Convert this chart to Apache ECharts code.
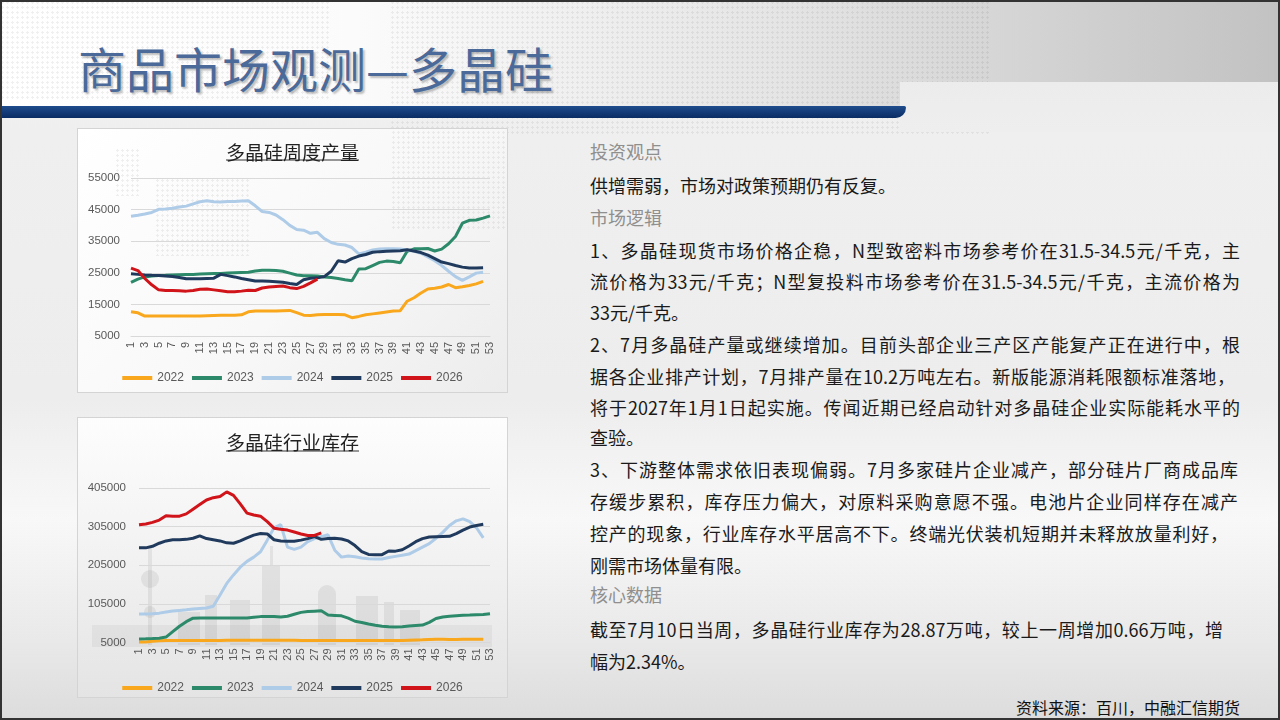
<!DOCTYPE html>
<html>
<head>
<meta charset="utf-8">
<title>商品市场观测—多晶硅</title>
<script src="https://cdn.jsdelivr.net/npm/echarts@6/dist/echarts.min.js"></script>
<style>
html,body{margin:0;padding:0;}
body{width:1280px;height:720px;overflow:hidden;font-family:"Noto Sans CJK SC",sans-serif;}
#slide{position:relative;width:1280px;height:720px;overflow:hidden;
  background:linear-gradient(180deg,#f4f4f4 0px,#efefef 130px,#ededed 400px,#f8f8f8 520px,#e9e9e9 640px,#dcdcdc 720px);}
.dots{position:absolute;background-image:radial-gradient(circle,rgba(0,0,0,0.06) 1px,transparent 1.4px);background-size:5px 5px;}
#head{position:absolute;left:0;top:0;width:1280px;height:107px;
  background:linear-gradient(90deg,#ffffff 0%,#fbfbfb 28%,#e4e4e4 62%,#c2c2c2 100%);}
#headRight{position:absolute;left:900px;top:82px;width:380px;height:50px;
  background:linear-gradient(180deg,#ececec,#eeeeee);}
#bar{position:absolute;left:0;top:106px;width:906px;height:12px;
  background:linear-gradient(180deg,#1e4c8c,#0a2c64);border-radius:0 2px 12px 0;}
#title{position:absolute;left:78px;top:40px;font-size:48px;line-height:54px;color:#4b6a9a;
  text-shadow:2px 2px 2px rgba(0,0,0,0.25);white-space:nowrap;}
.box{position:absolute;border:1px solid #d4d4d4;box-sizing:border-box;}
#box1{left:77px;top:128px;width:431px;height:265px;background:linear-gradient(135deg,#ffffff 0%,#f8f8f8 55%,#ececec 100%);}
#box2{left:77px;top:417px;width:431px;height:281px;background:linear-gradient(180deg,#fdfdfd 0%,#f3f3f3 45%,#e4e4e4 100%);}
.sky{position:absolute;background:rgba(140,140,140,0.16);}
.chart{position:absolute;}
#prodChart{left:78px;top:129px;width:429px;height:263px;}
#stockChart{left:78px;top:419px;width:429px;height:278px;}
.ln{position:absolute;left:590px;height:26px;line-height:26px;font-size:18px;color:#1a1a1a;white-space:nowrap;}
.hd{color:#8f8f8f;}
.j{text-align:justify;text-align-last:justify;}
#src{position:absolute;right:40px;top:694px;height:26px;line-height:26px;font-size:16px;color:#111;white-space:nowrap;}
#frame{position:absolute;left:0;top:0;width:1280px;height:720px;box-sizing:border-box;border:2px solid #333;pointer-events:none;}
</style>
</head>
<body>
<div id="slide">
  <div id="head"></div>
  <div class="dots" style="left:0;top:0;width:330px;height:100px;"></div>
  <div class="dots" style="left:390px;top:0;width:600px;height:135px;"></div>
  <div id="headRight"></div>
  <div id="bar"></div>
  <div id="title">商品市场观测—多晶硅</div>

  <div class="box" id="box1"></div>
  <div class="dots" style="left:115px;top:148px;width:24px;height:48px;"></div>
  <div class="dots" style="left:155px;top:178px;width:95px;height:78px;"></div>
  <div class="dots" style="left:391px;top:130px;width:114px;height:100px;"></div>

  <div class="box" id="box2"></div>
  <!-- 背景城市剪影 -->
  <div class="sky" style="left:148px;top:548px;width:4px;height:97px;"></div>
  <div class="sky" style="left:141px;top:570px;width:18px;height:18px;border-radius:50%;"></div>
  <div class="sky" style="left:144px;top:606px;width:12px;height:12px;border-radius:50%;"></div>
  <div class="sky" style="left:178px;top:612px;width:22px;height:33px;"></div>
  <div class="sky" style="left:205px;top:595px;width:12px;height:50px;"></div>
  <div class="sky" style="left:230px;top:600px;width:20px;height:45px;"></div>
  <div class="sky" style="left:262px;top:565px;width:18px;height:80px;"></div>
  <div class="sky" style="left:270px;top:546px;width:3px;height:19px;"></div>
  <div class="sky" style="left:318px;top:585px;width:18px;height:60px;border-radius:9px 9px 0 0;"></div>
  <div class="sky" style="left:356px;top:596px;width:22px;height:49px;"></div>
  <div class="sky" style="left:384px;top:602px;width:10px;height:43px;"></div>
  <div class="sky" style="left:400px;top:610px;width:20px;height:35px;"></div>
  <div class="sky" style="left:92px;top:625px;width:400px;height:22px;background:rgba(140,140,140,0.10);"></div>

  <div class="chart" id="prodChart"></div>
  <div class="chart" id="stockChart"></div>

  <div class="ln hd" style="top:138px;">投资观点</div>
  <div class="ln" style="top:172px;">供增需弱，市场对政策预期仍有反复。</div>
  <div class="ln hd" style="top:204px;">市场逻辑</div>
  <div class="ln j" style="top:237px;width:650px;">1、多晶硅现货市场价格企稳，N型致密料市场参考价在31.5-34.5元/千克，主</div>
  <div class="ln j" style="top:268px;width:650px;">流价格为33元/千克；N型复投料市场参考价在31.5-34.5元/千克，主流价格为</div>
  <div class="ln" style="top:299px;">33元/千克。</div>
  <div class="ln j" style="top:331px;width:650px;">2、7月多晶硅产量或继续增加。目前头部企业三产区产能复产正在进行中，根</div>
  <div class="ln j" style="top:363px;width:645px;">据各企业排产计划，7月排产量在10.2万吨左右。新版能源消耗限额标准落地，</div>
  <div class="ln j" style="top:394px;width:650px;">将于2027年1月1日起实施。传闻近期已经启动针对多晶硅企业实际能耗水平的</div>
  <div class="ln" style="top:424px;">查验。</div>
  <div class="ln j" style="top:456px;width:648px;">3、下游整体需求依旧表现偏弱。7月多家硅片企业减产，部分硅片厂商成品库</div>
  <div class="ln j" style="top:488px;width:648px;">存缓步累积，库存压力偏大，对原料采购意愿不强。电池片企业同样存在减产</div>
  <div class="ln j" style="top:520px;width:638px;">控产的现象，行业库存水平居高不下。终端光伏装机短期并未释放放量利好，</div>
  <div class="ln" style="top:552px;">刚需市场体量有限。</div>
  <div class="ln hd" style="top:581px;">核心数据</div>
  <div class="ln j" style="top:616px;width:633px;">截至7月10日当周，多晶硅行业库存为28.87万吨，较上一周增加0.66万吨，增</div>
  <div class="ln" style="top:648px;">幅为2.34%。</div>
  <div id="src">资料来源：百川，中融汇信期货</div>
  <div id="frame"></div>
</div>

<script>
// 周数（横轴）
var weeks = ['1','2','3','4','5','6','7','8','9','10','11','12','13','14','15','16','17','18',
    '19','20','21','22','23','24','25','26','27','28','29','30','31','32','33','34','35','36',
    '37','38','39','40','41','42','43','44','45','46','47','48','49','50','51','52','53'];
var yearNames = ['2022','2023','2024','2025','2026'];
var lineColors = ['#f9a71c','#2c8a6b','#aecbe8','#1f3a5c','#d0141a'];

// 多晶硅周度产量（吨）
var prodTicks = [5000, 15000, 25000, 35000, 45000, 55000];
var prod2022 = [12650, 12350, 11300, 11300, 11300, 11300, 11300, 11300, 11300, 11300,
    11300, 11400, 11500, 11600, 11600, 11600, 11700, 12650, 12900, 12900,
    12900, 12900, 13000, 13100, 12400, 11600, 11500, 11700, 11800, 11800,
    11800, 11700, 10800, 11200, 11700, 12000, 12300, 12600, 12900, 13000,
    16000, 17100, 18600, 19900, 20100, 20500, 21300, 20300, 20600, 21000,
    21500, 22300];
var prod2023 = [22000, 23000, 23700, 24000, 24150, 24200, 24300, 24400, 24450, 24500,
    24600, 24700, 24800, 24800, 24900, 25000, 25100, 25200, 25600, 25800,
    25800, 25700, 25500, 24900, 24300, 24100, 24100, 24000, 23700, 23500,
    23200, 22800, 22500, 26200, 26300, 27300, 28300, 28700, 28600, 28200,
    31800, 32600, 32600, 32700, 31900, 32500, 34200, 36500, 40700, 41600,
    41700, 42300, 43000];
var prod2024 = [42900, 43200, 43600, 44100, 45100, 45200, 45400, 45800, 46100, 46800,
    47500, 47800, 47500, 47400, 47600, 47600, 47700, 47800, 46200, 44400,
    44100, 43300, 41800, 40000, 38700, 38500, 37500, 37800, 35800, 34600,
    34000, 33800, 33000, 31000, 31500, 32200, 32500, 32600, 32600, 32500,
    32200, 31800, 31200, 30000, 28800, 27300, 25500, 23800, 22600, 23700,
    24900, 25200];
var prod2025 = [24700, 24500, 24300, 24200, 24150, 24000, 23800, 23500, 23100, 23100,
    23100, 23200, 23300, 24500, 24100, 23700, 23200, 22800, 22400, 22400,
    22300, 22200, 22000, 21600, 21300, 22800, 23300, 23400, 23800, 25500,
    28800, 28400, 29500, 30300, 30800, 31500, 31700, 31800, 31900, 32000,
    32300, 31900, 31400, 30600, 29500, 28400, 27900, 27300, 26800, 26500,
    26500, 26600];
var prod2026 = [26500, 25700, 23200, 21200, 19600, 19400, 19400, 19300, 19200, 19400,
    19800, 19900, 19600, 19300, 19000, 19000, 19200, 19500, 19400, 20200,
    20500, 20700, 20800, 20300, 20000, 20700, 21800, 23000];

// 多晶硅行业库存（吨）
var stockTicks = [5000, 105000, 205000, 305000, 405000];
var stock2022 = [6000, 6500, 8000, 9500, 10000, 10500, 10500, 10500, 10500, 10500,
    10000, 10000, 10000, 11000, 11000, 11000, 11000, 11000, 11000, 11000,
    11000, 11000, 11000, 11000, 10500, 10500, 10500, 10500, 10500, 10500,
    10500, 10500, 10500, 10500, 10500, 10500, 10500, 10500, 10500, 10500,
    11000, 11500, 12000, 13000, 13500, 13500, 12500, 13000, 13500, 13500,
    13500, 13500];
var stock2023 = [14300, 14800, 15400, 16200, 19000, 33000, 47000, 59000, 68000, 68500,
    68500, 68500, 68500, 68500, 68500, 68500, 68500, 70500, 72000, 72500,
    72500, 71000, 73000, 78000, 83000, 85000, 86000, 87000, 76000, 75000,
    74000, 68000, 60000, 57000, 53000, 49500, 47000, 45500, 45000, 45500,
    47500, 49000, 50000, 57000, 67000, 71000, 73000, 74500, 75500, 76000,
    77000, 77500, 79500];
var stock2024 = [79000, 79000, 79500, 81000, 84000, 86500, 88000, 89500, 91500, 93000,
    94500, 99000, 128000, 158000, 180000, 200000, 215000, 226000, 240000, 270000,
    302000, 310000, 252000, 246000, 252000, 266000, 274000, 279000, 284000, 244000,
    226000, 229000, 227000, 224000, 222000, 221500, 221000, 225000, 228000, 231000,
    234000, 243000, 252000, 261000, 275000, 290000, 308000, 320000, 325000, 318000,
    302000, 276000];
var stock2025 = [250000, 250000, 254000, 262000, 268000, 271000, 271000, 272000, 275000, 281000,
    274000, 271000, 268000, 263000, 262000, 268000, 276000, 283000, 287000, 286000,
    271000, 268000, 267000, 267000, 270000, 274000, 279000, 272000, 274000, 275000,
    273000, 268000, 256000, 240000, 233000, 232500, 232500, 242000, 241500, 245000,
    255000, 266000, 274000, 278000, 279000, 279500, 280000, 287000, 296000, 304000,
    308000, 311000];
var stock2026 = [310000, 312000, 316000, 322000, 333000, 332000, 332000, 338000, 350000, 362000,
    374000, 380000, 383000, 395000, 386000, 364000, 340000, 335000, 332000, 318000,
    301000, 298000, 296000, 291000, 286000, 282000, 282100, 288700];

drawChart('prodChart', '多晶硅周度产量', prodTicks,
    [prod2022, prod2023, prod2024, prod2025, prod2026],
    {left: 53, right: 17, top: 49, bottom: 56}, 11, 238, 31);
drawChart('stockChart', '多晶硅行业库存', stockTicks,
    [stock2022, stock2023, stock2024, stock2025, stock2026],
    {left: 61, right: 17, top: 69, bottom: 54.5}, 13, 258, 32);

// 画一张年度对比折线图
function drawChart(domId, titleText, ticks, seriesData, grid, labelMargin, legendTop, lineY) {
    var myChart = echarts.init(document.getElementById(domId));
    var series = [];
    for (var i = 0; i < yearNames.length; i++) {
        series.push({
            name: yearNames[i],
            type: 'line',
            data: seriesData[i],
            symbol: 'none',
            showSymbol: false,
            lineStyle: {width: 3, color: lineColors[i]},
            itemStyle: {color: lineColors[i]},
            emphasis: {disabled: true}
        });
    }
    var option = {
        animation: false,
        backgroundColor: 'transparent',
        title: {
            text: titleText,
            left: 'center',
            top: 9,
            textStyle: {fontSize: 19, fontWeight: 'normal', color: '#222', fontFamily: 'Noto Sans CJK SC'}
        },
        graphic: [{
            type: 'line',
            shape: {x1: 148, y1: lineY, x2: 281, y2: lineY},
            style: {stroke: '#333', lineWidth: 1}
        }],
        legend: {
            data: yearNames,
            left: 'center',
            top: legendTop,
            icon: 'rect',
            itemWidth: 30,
            itemHeight: 4,
            itemGap: 8,
            textStyle: {fontSize: 12, color: '#595959', fontFamily: 'Liberation Sans'}
        },
        grid: {left: grid.left, right: grid.right, top: grid.top, bottom: grid.bottom, outerBoundsMode: 'none'},
        xAxis: {
            type: 'category',
            boundaryGap: false,
            data: weeks,
            axisTick: {show: false},
            axisLine: {lineStyle: {color: '#d9d9d9'}},
            axisLabel: {interval: 1, rotate: 90, margin: 6, fontSize: 11, color: '#595959', fontFamily: 'Liberation Sans'},
            splitLine: {show: false}
        },
        yAxis: {
            type: 'value',
            min: ticks[0],
            max: ticks[ticks.length - 1],
            interval: ticks[1] - ticks[0],
            axisLine: {show: false},
            axisTick: {show: false},
            axisLabel: {
                margin: labelMargin, fontSize: 11.5, color: '#595959', fontFamily: 'Liberation Sans',
                formatter: function (v) { return String(v); } // 不要千分位
            },
            splitLine: {lineStyle: {color: '#d9d9d9', width: 1}}
        },
        series: series
    };
    myChart.setOption(option);
}
</script>
</body>
</html>
